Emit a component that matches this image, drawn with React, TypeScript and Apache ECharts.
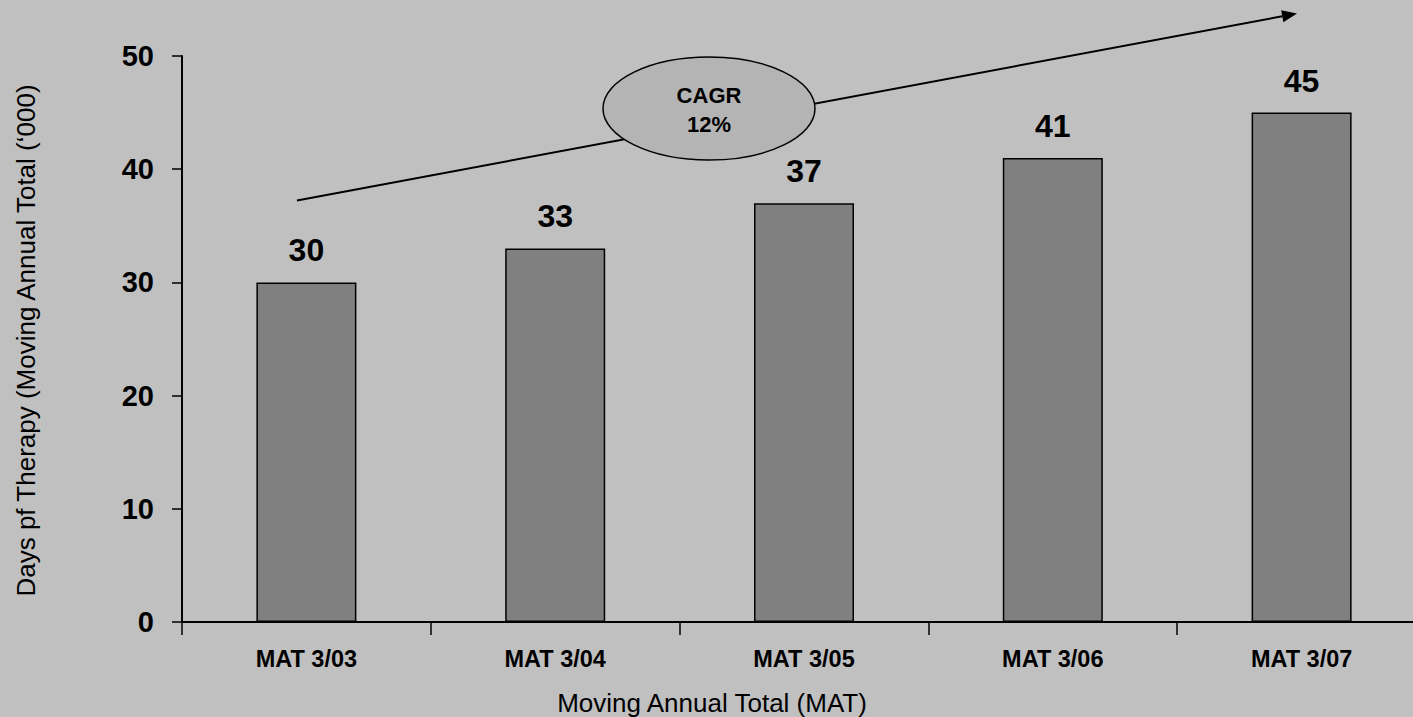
import React, { useEffect, useRef } from "react";
import * as echarts from "echarts";

const categories = ["MAT 3/03", "MAT 3/04", "MAT 3/05", "MAT 3/06", "MAT 3/07"];
const daysOfTherapy = [30, 33, 37, 41, 45];
const yTicks = { min: 0, max: 50, interval: 10 };
const xTitle = "Moving Annual Total (MAT)";
const yTitle = "Days pf Therapy (Moving Annual Total (\u2018000)";
const cagrLines = ["CAGR", "12%"];

const FONT = "'Liberation Sans', Arial, Helvetica, sans-serif";

// annotation geometry (pixels)
const ARROW_START = [297, 200.5];
const ARROW_END = [1297, 13.5];
const ELLIPSE = { cx: 709, cy: 108.5, rx: 106, ry: 51.5 };

export default function App() {
  const ref = useRef<HTMLDivElement>(null);

  useEffect(() => {
    document.body.style.margin = "0";
    if (!ref.current) return;
    const chart = echarts.init(ref.current, null, { renderer: "svg" });

    const dx = ARROW_END[0] - ARROW_START[0];
    const dy = ARROW_END[1] - ARROW_START[1];
    const len = Math.sqrt(dx * dx + dy * dy);
    const ux = dx / len;
    const uy = dy / len;
    const nx = -uy;
    const ny = ux;
    const headLen = 15;
    const headHalf = 6;
    const bx = ARROW_END[0] - headLen * ux;
    const by = ARROW_END[1] - headLen * uy;

    chart.setOption({
      animation: false,
      backgroundColor: "#c0c0c0",
      textStyle: { fontFamily: FONT },
      grid: {
        left: 182,
        top: 56,
        width: 1244,
        height: 566,
        containLabel: false,
        outerBoundsMode: "none",
      },
      xAxis: {
        type: "category",
        data: categories,
        axisLine: { show: true, lineStyle: { color: "#000", width: 2 } },
        axisTick: { show: true, alignWithLabel: false, length: 13, lineStyle: { color: "#000", width: 1.5 } },
        axisLabel: {
          color: "#000",
          fontWeight: "bold",
          fontSize: 23.5,
          fontFamily: FONT,
          margin: 25,
          interval: 0,
        },
        splitLine: { show: false },
      },
      yAxis: {
        type: "value",
        min: yTicks.min,
        max: yTicks.max,
        interval: yTicks.interval,
        axisLine: { show: true, lineStyle: { color: "#000", width: 2 } },
        axisTick: { show: true, length: 10, lineStyle: { color: "#000", width: 1.5 } },
        axisLabel: {
          color: "#000",
          fontWeight: "bold",
          fontSize: 29,
          fontFamily: FONT,
          margin: 28,
        },
        splitLine: { show: false },
      },
      series: [
        {
          type: "bar",
          data: daysOfTherapy,
          barWidth: 100,
          itemStyle: { color: "#808080", borderColor: "#000", borderWidth: 1.5 },
          label: {
            show: true,
            position: "top",
            distance: 16,
            color: "#000",
            fontWeight: "bold",
            fontSize: 32,
            fontFamily: FONT,
          },
        },
      ],
      graphic: [
        {
          type: "line",
          z: 10,
          shape: { x1: ARROW_START[0], y1: ARROW_START[1], x2: bx, y2: by },
          style: { stroke: "#000", lineWidth: 2 },
        },
        {
          type: "polygon",
          z: 10,
          shape: {
            points: [
              [ARROW_END[0], ARROW_END[1]],
              [bx + headHalf * nx, by + headHalf * ny],
              [bx - headHalf * nx, by - headHalf * ny],
            ],
          },
          style: { fill: "#000" },
        },
        {
          type: "ellipse",
          z: 11,
          shape: ELLIPSE,
          style: { fill: "#b4b4b4", stroke: "#000", lineWidth: 1.5 },
        },
        {
          type: "text",
          z: 12,
          x: ELLIPSE.cx,
          y: 95.5,
          style: {
            text: cagrLines[0],
            fill: "#000",
            font: `bold 22px ${FONT}`,
            textAlign: "center",
            textVerticalAlign: "middle",
          },
        },
        {
          type: "text",
          z: 12,
          x: ELLIPSE.cx,
          y: 124.5,
          style: {
            text: cagrLines[1],
            fill: "#000",
            font: `bold 22px ${FONT}`,
            textAlign: "center",
            textVerticalAlign: "middle",
          },
        },
        {
          type: "text",
          z: 12,
          x: 712,
          y: 703,
          style: {
            text: xTitle,
            fill: "#000",
            font: `26px ${FONT}`,
            textAlign: "center",
            textVerticalAlign: "middle",
          },
        },
        {
          type: "text",
          z: 12,
          x: 26,
          y: 340.5,
          rotation: Math.PI / 2,
          style: {
            text: yTitle,
            fill: "#000",
            font: `26px ${FONT}`,
            textAlign: "center",
            textVerticalAlign: "middle",
          },
        },
      ],
    });

    return () => chart.dispose();
  }, []);

  return <div ref={ref} style={{ width: 1413, height: 717 }} />;
}
